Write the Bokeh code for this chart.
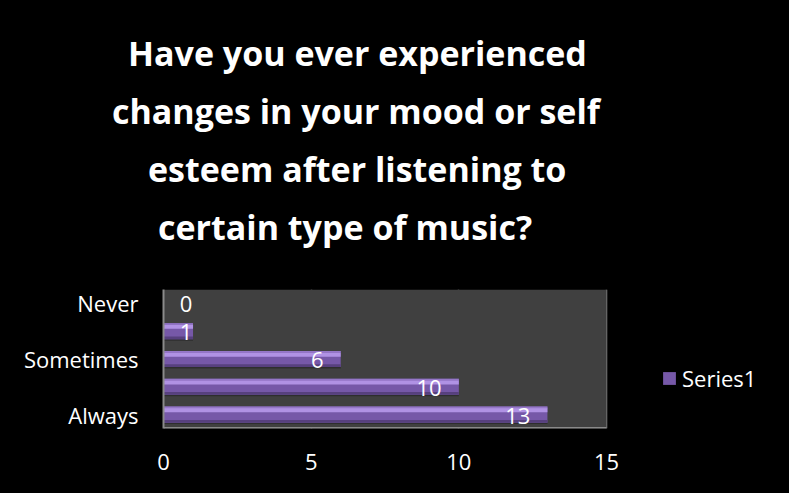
import numpy as np
from bokeh.plotting import figure
from bokeh.models import (ColumnDataSource, Range1d, FixedTicker,
                          Title, Legend, LegendItem)
from bokeh.transform import dodge
from bokeh.core.properties import value
from bokeh.embed import file_html
from bokeh.resources import INLINE

# ---- data ----
tick_labels = ["Always", "", "Sometimes", "", "Never"]   # bottom -> top (every other label shown)
values = [13, 10, 6, 1, 0]
x_ticks = [0, 5, 10, 15]
series_name = "Series1"
title_lines = ["Have you ever experienced",
               "changes in your mood or self",
               "esteem after listening to",
               "certain type of music?"]

W, H = 789, 493
FL, FR, FT, FB = 163, 606, 289, 428      # plot-area edges (px)
FONT = "Open Sans"
EDGE = "#8a8a8a"

x_max = x_ticks[-1]
# the frame runs to the right edge of the page so the legend can sit inside it;
# the grey plot area itself ends at x_max
x_end = x_max * (W - FL) / (FR - FL)
y_lo, y_hi = 0.5, len(values) + 0.5

vals = np.array(values, dtype=float)
pos = np.arange(1, len(values) + 1)
src = ColumnDataSource(dict(y=pos, val=vals,
                            lab=[str(v) for v in values],
                            labx=np.maximum(vals - 0.58, 0.98)))

p = figure(frame_width=W - FL, frame_height=FB - FT,
           output_backend="svg", toolbar_location=None,
           y_range=Range1d(y_lo, y_hi), x_range=Range1d(0, x_end),
           min_border_left=FL, min_border_right=0,
           min_border_top=0, min_border_bottom=H - FB)
# black page behind a transparent canvas (avoids seams at the frame edges)
p.styles = {"background-color": "black"}
p.background_fill_color = None
p.border_fill_color = None
p.outline_line_color = None

# grey plot area and its bottom edge
p.quad(left=[0], right=[x_max], bottom=[y_lo], top=[y_hi],
       fill_color="#404040", line_color=None)
p.segment(x0=[0], x1=[x_max], y0=[y_lo], y1=[y_lo], line_color=EDGE, line_width=3)

# bars with a simple bevel look
p.hbar(y=dodge("y", -0.31), right="val", left=0, height=0.06,
       source=src, fill_color="#2e2e2e", line_color=None)
main = p.hbar(y="y", right="val", left=0, height=0.58, source=src,
              fill_color="#7658a8", line_color=None)
p.hbar(y=dodge("y", -0.24), right="val", left=0, height=0.10,
       source=src, fill_color="#57407e", line_color=None)
p.hbar(y=dodge("y", 0.16), right="val", left=0, height=0.15,
       source=src, fill_color="#b092e4", line_color=None)
p.hbar(y=dodge("y", 0.26), right="val", left=0, height=0.06,
       source=src, fill_color="#9577c8", line_color=None)

p.text(x="labx", y="y", text="lab", source=src, text_align="right",
       text_baseline="middle", y_offset=1, text_color="white",
       text_font=value(FONT), text_font_size="22px")

# axes
p.xaxis.ticker = FixedTicker(ticks=x_ticks)
p.xaxis.bounds = (0, x_max)
p.xaxis.axis_line_color = None
p.yaxis.ticker = FixedTicker(ticks=[int(v) for v in pos])
p.yaxis.major_label_overrides = {int(k): t for k, t in zip(pos, tick_labels)}
p.yaxis.axis_line_color = EDGE
p.yaxis.axis_line_width = 2
for ax in (p.xaxis, p.yaxis):
    ax.major_tick_out = 0
    ax.major_tick_in = 0
    ax.minor_tick_out = 0
    ax.minor_tick_in = 0
    ax.major_label_text_color = "white"
    ax.major_label_text_font = FONT
    ax.major_label_text_font_size = "22px"
p.xaxis.major_label_standoff = 25
p.yaxis.major_label_standoff = 25

p.ygrid.grid_line_color = None
p.xgrid.ticker = FixedTicker(ticks=x_ticks[1:])
p.xgrid.grid_line_color = EDGE
p.xgrid.grid_line_width = 1.5

# title lines stacked above the plot (first added = nearest the plot)
TITLE_CENTER = 357
line_widths = [459, 491, 419, 399]   # rendered widths in px, used to centre each line

def spacer(standoff):
    return Title(text=" ", text_font_size="1px", standoff=standoff, text_color="black")

p.add_layout(spacer(32), "above")
for line, w in reversed(list(zip(title_lines, line_widths))):
    p.add_layout(Title(text=line, align="left", offset=TITLE_CENTER - w / 2 - FL,
                       text_color="white", text_font=FONT, text_font_size="34px",
                       text_font_style="bold", standoff=10), "above")
p.add_layout(spacer(19), "above")

legend = Legend(items=[LegendItem(label=series_name, renderers=[main])],
                location=(498, 35), padding=0, margin=0,
                glyph_width=16, glyph_height=16, label_standoff=5, spacing=0,
                label_text_color="white", label_text_font=FONT,
                label_text_font_size="22px", background_fill_alpha=0,
                border_line_alpha=0)
p.add_layout(legend, "center")

open("out.html", "w").write(file_html(p, INLINE))
